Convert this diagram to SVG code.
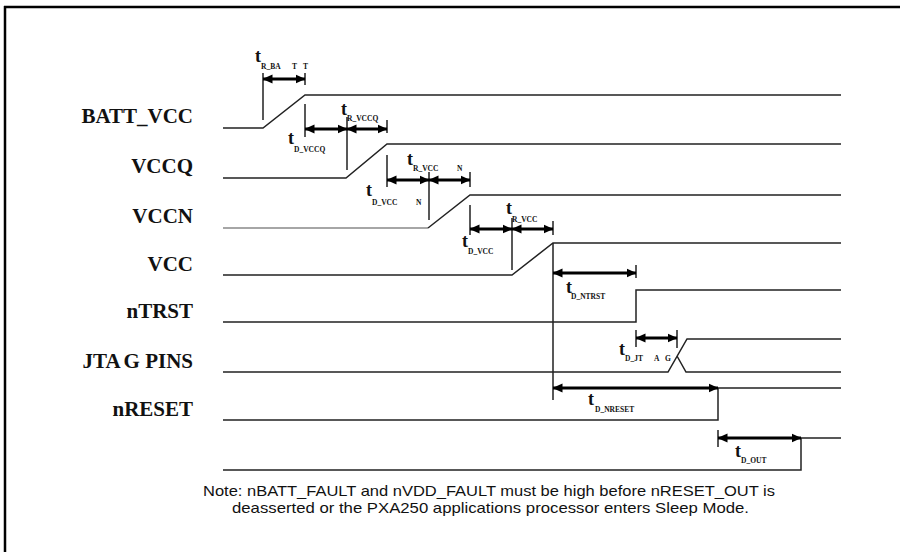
<svg xmlns="http://www.w3.org/2000/svg" width="900" height="552" viewBox="0 0 900 552">
<style>
.sig{fill:none;stroke:#222;stroke-width:1.5}
.sigg{fill:none;stroke:#888;stroke-width:1.5}
.tick{fill:none;stroke:#222;stroke-width:1.5}
.arr{fill:none;stroke:#000;stroke-width:3;marker-start:url(#ah);marker-end:url(#ah)}
.lbl{font-family:"Liberation Serif","Times New Roman",serif;font-weight:bold;font-size:21px;fill:#111;text-anchor:end}
.t{font-family:"Liberation Serif","Times New Roman",serif;font-weight:bold;font-size:18px;fill:#111}
.s{font-family:"Liberation Serif","Times New Roman",serif;font-weight:bold;font-size:7.5px;fill:#111}
.note{font-family:"Liberation Sans",Arial,sans-serif;font-size:15px;fill:#111}
</style>
<defs>
<marker id="ah" markerUnits="userSpaceOnUse" markerWidth="10" markerHeight="10" viewBox="0 0 10 10" refX="9.5" refY="5" orient="auto-start-reverse">
<path d="M0,0.5 L10,5 L0,9.5 Z" fill="#000"/>
</marker>
</defs>
<rect width="900" height="552" fill="#fff"/>
<g id="frame">
<path d="M4,7 H900 M5,6 V552" fill="none" stroke="#000" stroke-width="2.5"/>
</g>
<g id="labels">
<text class="lbl" x="193" y="123">BATT_VCC</text>
<text class="lbl" x="193" y="173">VCCQ</text>
<text class="lbl" x="193" y="223">VCCN</text>
<text class="lbl" x="193" y="271">VCC</text>
<text class="lbl" x="193" y="318">nTRST</text>
<text class="lbl" x="193" y="368">JTA<tspan dx="3">G PINS</tspan></text>
<text class="lbl" x="193" y="416">nRESET</text>
</g>
<g id="signals">
<g id="batt_vcc"><path class="sig" d="M223,128 H263 L305,95 H841"/></g>
<g id="vccq"><path class="sig" d="M223,178 H346 L387,144 H841"/></g>
<g id="vccn"><path class="sigg" d="M223,228 H428"/><path class="sig" d="M428,228 L470,195 H841"/></g>
<g id="vcc"><path class="sig" d="M223,275 H512 L553,243 H841"/></g>
<g id="ntrst"><path class="sig" d="M223,322 H636 V290 H841"/></g>
<g id="jtag"><path class="sig" d="M223,372 H668 L687,339 H841 M677,356 L686,372 H841"/></g>
<g id="nreset"><path class="sig" d="M223,420 H718 V388 H841"/></g>
<g id="nreset_out"><path class="sig" d="M223,470 H801 V438 H841"/></g>
</g>
<g id="connectors">
<path class="tick" d="M263,73 V120 M305,73 V85 M305,104 V137 M347,117 V170 M387,120 V133 M387,155 V187 M429,172 V220 M470,172 V187 M470,205 V235 M512,218 V270 M553,221 V235 M553,243 V400 M636,265 V278 M636,330 V347 M677,330 V348 M718,430 V447"/>
<line class="arr" x1="263" y1="79" x2="305" y2="79"/>
<line class="arr" x1="305" y1="129" x2="347" y2="129"/>
<line class="arr" x1="347" y1="129" x2="387" y2="129"/>
<line class="arr" x1="387" y1="180" x2="429" y2="180"/>
<line class="arr" x1="429" y1="180" x2="470" y2="180"/>
<line class="arr" x1="470" y1="229" x2="512" y2="229"/>
<line class="arr" x1="512" y1="229" x2="553" y2="229"/>
<line class="arr" x1="553" y1="273" x2="636" y2="273"/>
<line class="arr" x1="636" y1="338" x2="677" y2="338"/>
<line class="arr" x1="553" y1="388" x2="718" y2="388"/>
<line class="arr" x1="718" y1="438" x2="801" y2="438"/>
</g>
<g id="timing-labels">
<text class="t" x="255" y="62">t</text><text class="s" x="261" y="69">R_BA</text><text class="s" x="292" y="69">T</text><text class="s" x="303" y="69">T</text>
<text class="t" x="288" y="144">t</text><text class="s" x="294" y="152">D_VCCQ</text>
<text class="t" x="341" y="115">t</text><text class="s" x="347" y="121">R_VCCQ</text>
<text class="t" x="366" y="196">t</text><text class="s" x="372" y="205">D_VCC</text><text class="s" x="416" y="205">N</text>
<text class="t" x="407" y="165">t</text><text class="s" x="413" y="171">R_VCC</text><text class="s" x="457" y="171">N</text>
<text class="t" x="462" y="247">t</text><text class="s" x="468" y="254">D_VCC</text>
<text class="t" x="506" y="214">t</text><text class="s" x="512" y="222">R_VCC</text>
<text class="t" x="566" y="293">t</text><text class="s" x="571" y="299">D_NTRST</text>
<text class="t" x="619" y="355">t</text><text class="s" x="625" y="361">D_JT</text><text class="s" x="654" y="361">A</text><text class="s" x="665" y="361">G</text>
<text class="t" x="588" y="405">t</text><text class="s" x="595" y="412">D_NRESET</text>
<text class="t" x="735" y="457">t</text><text class="s" x="741" y="463">D_OUT</text>
</g>
<g id="note">
<text class="note" x="203" y="496" textLength="572" lengthAdjust="spacingAndGlyphs">Note: nBATT_FAULT and nVDD_FAULT must be high before nRESET_OUT is</text>
<text class="note" x="232" y="513" textLength="517" lengthAdjust="spacingAndGlyphs">deasserted or the PXA250 applications processor enters Sleep Mode.</text>
</g>
</svg>
